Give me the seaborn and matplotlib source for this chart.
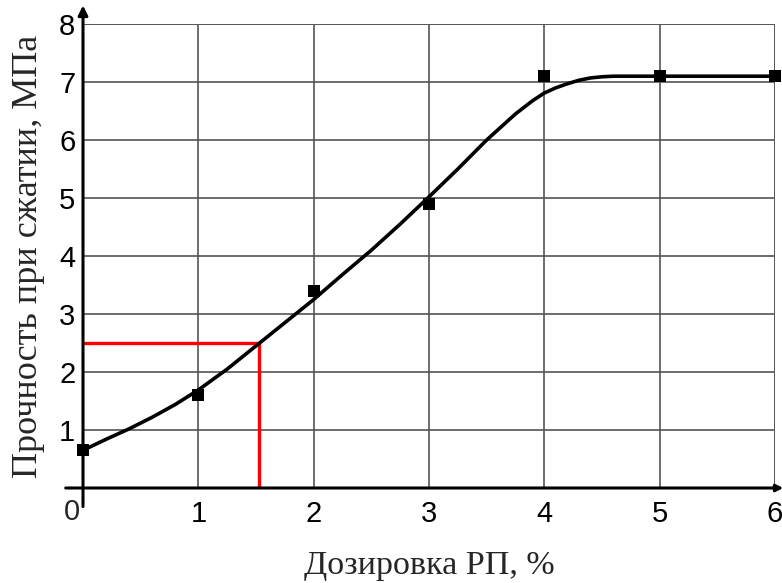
import numpy as np
import pandas as pd
import seaborn as sns
import matplotlib.pyplot as plt

# measured points
dose = [0, 1, 2, 3, 4, 5, 6]
strength = [0.65, 1.6, 3.4, 4.9, 7.1, 7.1, 7.1]

# fitted curve
curve_x = [0, 0.2, 0.4, 0.6, 0.8, 1.0, 1.25, 1.5, 1.75, 2.0, 2.25, 2.5, 2.75, 3.0,
           3.25, 3.5, 3.75, 3.9, 4.0, 4.1, 4.2, 4.3, 4.4, 4.5, 4.6, 5.0, 6.0]
curve_y = [0.65, 0.84, 1.02, 1.22, 1.44, 1.69, 2.05, 2.45, 2.85, 3.25, 3.68, 4.1, 4.55, 5.02,
           5.5, 6.0, 6.45, 6.68, 6.81, 6.9, 6.97, 7.03, 7.07, 7.09, 7.1, 7.1, 7.1]

# red guide: 2.5 MPa -> 1.53 %
guide_x = [0, 1.53, 1.53]
guide_y = [2.5, 2.5, 0]

x_ticks = [1, 2, 3, 4, 5, 6]
y_ticks = [1, 2, 3, 4, 5, 6, 7, 8]
x_label = 'Дозировка РП, %'
y_label = 'Прочность при сжатии, МПа'

sns.set_style('white')
plt.rcParams['font.family'] = ['Liberation Sans', 'DejaVu Sans']

fig = plt.figure(figsize=(7.82, 5.83), dpi=100)
ax = fig.add_axes([83 / 782, 95 / 583, 692 / 782, 464 / 583])

curve = pd.DataFrame({'x': curve_x, 'y': curve_y})
points = pd.DataFrame({'x': dose, 'y': strength})

sns.lineplot(data=curve, x='x', y='y', color='black', linewidth=2.6, ax=ax,
             sort=False, zorder=4)
ax.plot(guide_x, guide_y, color='#ff0000', linewidth=2.4, zorder=3,
        solid_joinstyle='miter')
sns.scatterplot(data=points, x='x', y='y', marker='s', s=80, color='black',
                edgecolor='black', linewidth=0, ax=ax, zorder=5, clip_on=False)

ax.set_xlim(0, 6)
ax.set_ylim(0, 8)
ax.set_xticks(x_ticks)
ax.set_yticks(y_ticks)
ax.grid(True, color='#555555', linewidth=1.2)
ax.set_axisbelow(True)

for s in ax.spines.values():
    s.set_visible(False)

# grid lines at the limits
ax.axhline(8, color='#555555', linewidth=1.2, zorder=1)
ax.axvline(6, color='#555555', linewidth=1.2, zorder=1)

# axes with arrows
ax.annotate('', xy=(0, 1.04), xytext=(0, -0.04), xycoords='axes fraction',
            arrowprops=dict(arrowstyle='-|>', color='black', lw=2.2,
                            mutation_scale=14, shrinkA=0, shrinkB=0))
ax.annotate('', xy=(1.012, 0), xytext=(-0.025, 0), xycoords='axes fraction',
            arrowprops=dict(arrowstyle='-|>', color='black', lw=2.2,
                            mutation_scale=10, shrinkA=0, shrinkB=0))

ax.tick_params(axis='both', direction='inout', length=7, width=1.2,
               color='black', labelsize=21, labelcolor='black')
ax.tick_params(axis='x', pad=5)
ax.tick_params(axis='y', pad=2)
ax.annotate('0', xy=(0, 0), xycoords='axes fraction', xytext=(-2, -7),
            textcoords='offset points', ha='right', va='top', fontsize=21)

ax.set_xlabel(x_label, fontsize=24.5, family='Liberation Serif', labelpad=16)
ax.set_ylabel(y_label, fontsize=26, family='Liberation Serif', labelpad=10)

fig.savefig('out.png', dpi=100)
